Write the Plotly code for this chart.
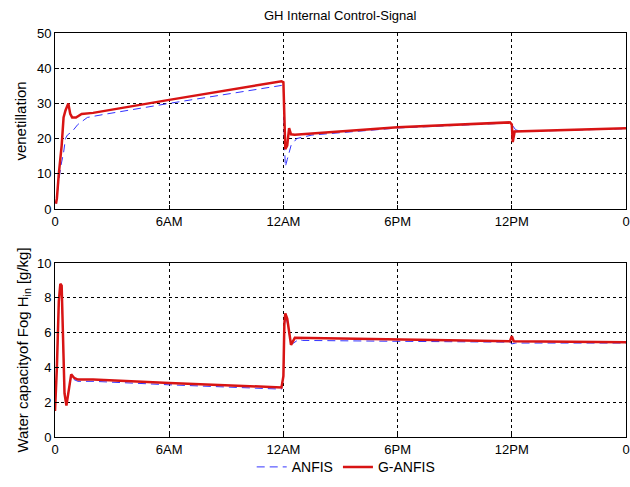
import plotly.graph_objects as go

# ---- data (hours since start) ----
tick_vals = [0, 6, 12, 18, 24, 30]
tick_text = ["0", "6AM", "12AM", "6PM", "12PM", "0"]

vent_ganfis_x = [0.05, 0.1, 0.2, 0.35, 0.45, 0.55, 0.7, 0.8, 0.9, 1.1, 1.4, 2.0, 6.0, 11.9, 12.0, 12.05, 12.1, 12.2, 12.3, 12.4, 12.6, 18.0, 23.9, 24.0, 24.05, 24.15, 30.0]
vent_ganfis_y = [1.5, 3, 10, 18, 26, 28, 30, 27, 26, 26, 27, 27.3, 31, 36.3, 36, 26, 17, 18, 23, 21.2, 21.1, 23.2, 24.6, 24, 19, 22, 22.9]

vent_anfis_x = [0.05, 0.3, 0.45, 0.55, 0.65, 0.9, 1.2, 1.7, 2.5, 6.0, 11.9, 12.0, 12.05, 12.1, 12.2, 12.4, 12.7, 13.5, 18.0, 23.8, 24.0, 24.2, 24.5, 30.0]
vent_anfis_y = [1.5, 12, 16, 20, 21, 22, 24, 26, 26.8, 30, 35.1, 34.5, 20, 12, 14, 18, 20, 21, 23, 24.4, 24, 22.5, 22, 22.8]

fog_ganfis_x = [0.0, 0.1, 0.2, 0.28, 0.35, 0.42, 0.5, 0.6, 0.7, 0.85, 1.0, 1.2, 2.0, 6.0, 11.9, 12.0, 12.05, 12.1, 12.2, 12.4, 12.6, 18.0, 23.9, 24.0, 24.1, 30.0]
fog_ganfis_y = [1.5, 4, 7.8, 8.8, 8.7, 5.5, 2.5, 1.8, 2.5, 3.6, 3.4, 3.3, 3.3, 3.1, 2.85, 3.5, 6.5, 7.1, 6.8, 5.3, 5.7, 5.6, 5.5, 5.8, 5.5, 5.45]

fog_anfis_x = [0.0, 0.1, 0.2, 0.28, 0.35, 0.42, 0.5, 0.6, 0.7, 0.85, 1.0, 1.2, 2.0, 6.0, 11.9, 12.0, 12.05, 12.1, 12.2, 12.4, 12.8, 13.0, 18.0, 23.9, 24.0, 24.2, 30.0]
fog_anfis_y = [1.5, 4, 7.6, 8.6, 8.5, 5.4, 2.5, 1.9, 2.5, 3.5, 3.3, 3.2, 3.2, 3.0, 2.75, 3.4, 6.3, 7.0, 6.6, 5.3, 5.6, 5.55, 5.5, 5.45, 5.35, 5.4, 5.4]

blue = "#3333ff"
red = "#d81414"

fig = go.Figure()
fig.add_trace(go.Scatter(x=vent_anfis_x, y=vent_anfis_y, mode="lines", name="ANFIS",
                         line=dict(color=blue, width=1, dash="8px,5px"), xaxis="x", yaxis="y"))
fig.add_trace(go.Scatter(x=vent_ganfis_x, y=vent_ganfis_y, mode="lines", name="G-ANFIS",
                         line=dict(color=red, width=2.5), xaxis="x", yaxis="y"))
fig.add_trace(go.Scatter(x=fog_anfis_x, y=fog_anfis_y, mode="lines", name="ANFIS", showlegend=False,
                         line=dict(color=blue, width=1, dash="8px,5px"), xaxis="x2", yaxis="y2"))
fig.add_trace(go.Scatter(x=fog_ganfis_x, y=fog_ganfis_y, mode="lines", name="G-ANFIS", showlegend=False,
                         line=dict(color=red, width=2.5), xaxis="x2", yaxis="y2"))

axis_common = dict(showline=True, linecolor="black", linewidth=1, mirror=True,
                   showgrid=True, gridcolor="black", gridwidth=1, griddash="3px,3px",
                   ticks="inside", ticklen=4, tickcolor="black", zeroline=False,
                   automargin=False,
                   tickfont=dict(size=13, color="black"))

fig.update_layout(
    width=630, height=487,
    margin=dict(l=55, r=4, t=33, b=43),
    paper_bgcolor="white", plot_bgcolor="white",
    font=dict(family="Liberation Sans, Arial, sans-serif", color="black"),
    title=dict(text="GH Internal Control-Signal", x=0.54, xanchor="center",
               y=1 - 15 / 487, yref="container", yanchor="middle", font=dict(size=13)),
    xaxis=dict(domain=[0, 1], range=[0, 30], tickvals=tick_vals, ticktext=tick_text,
               anchor="y", ticklabeloverflow="allow", **axis_common),
    yaxis=dict(domain=[0.5645, 1], range=[0, 50], dtick=10, anchor="x",
               title=dict(text="venetillation", font=dict(size=15), standoff=6), **axis_common),
    xaxis2=dict(domain=[0, 1], range=[0, 30], tickvals=tick_vals, ticktext=tick_text,
                anchor="y2", ticklabeloverflow="allow", **axis_common),
    yaxis2=dict(domain=[0, 0.4307], range=[0, 10], dtick=2, anchor="x2",
                title=dict(text="Water capacityof Fog H<sub>in</sub> [g/kg]", font=dict(size=15), standoff=4),
                **axis_common),
    legend=dict(orientation="h", x=0.51, xanchor="center", y=-0.075, yanchor="middle",
                font=dict(size=14), bgcolor="rgba(0,0,0,0)"),
    showlegend=True,
)

fig.write_html("out.html", config={"displayModeBar": False},
               post_script="document.body.style.margin='0';")
